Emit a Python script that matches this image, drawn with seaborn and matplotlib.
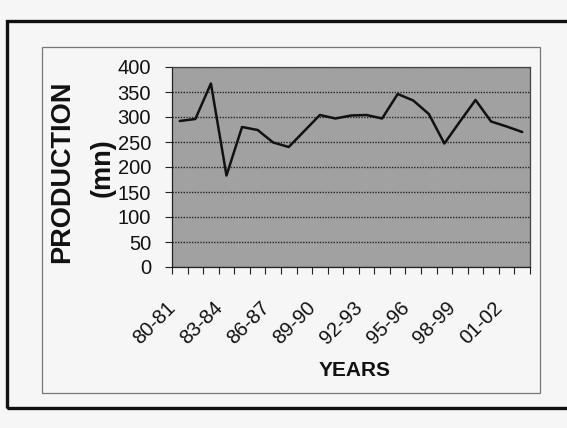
import numpy as np
import pandas as pd
import matplotlib
matplotlib.use("Agg")
import matplotlib.pyplot as plt
from matplotlib.patches import Rectangle
from matplotlib.transforms import ScaledTranslation
import seaborn as sns

# Annual production (mn), 1980-81 to 2002-03
years = ["80-81", "81-82", "82-83", "83-84", "84-85", "85-86", "86-87", "87-88",
         "88-89", "89-90", "90-91", "91-92", "92-93", "93-94", "94-95", "95-96",
         "96-97", "97-98", "98-99", "99-00", "00-01", "01-02", "02-03"]
production = [292, 296, 367, 183, 280, 274, 249, 240, 272, 304, 297, 303,
              304, 297, 346, 333, 306, 247, 291, 334, 291, 281, 270]
y_ticks = [0, 50, 100, 150, 200, 250, 300, 350, 400]
label_every = 3

sns.set_theme(style="white")
plt.rcParams["font.family"] = ["Liberation Sans", "DejaVu Sans"]

W, H = 567, 428
fig = plt.figure(figsize=(W / 100, H / 100), dpi=100, facecolor="#f6f6f6")


def fx(px):
    return px / W


def fy(py):
    return 1 - py / H


# Page frame and chart-area frame
fig.patches.append(Rectangle((fx(7), fy(408)), fx(620 - 7), (408 - 21) / H,
                             transform=fig.transFigure, fill=False,
                             ec="#111111", lw=2.4, zorder=0))
fig.patches.append(Rectangle((fx(42), fy(393)), fx(540 - 42), (393 - 47) / H,
                             transform=fig.transFigure, fill=False,
                             ec="#777777", lw=0.9, zorder=0))

ax = fig.add_axes([fx(172), fy(267), fx(530 - 172), (267 - 67) / H])

df = pd.DataFrame({"year": years, "production": production})
df["pos"] = np.arange(len(df))
sns.lineplot(data=df, x="pos", y="production", ax=ax, color="#111111",
             lw=1.8, zorder=3)

ax.set_facecolor("#a1a1a1")
ax.set_xlim(-0.5, len(years) - 0.5)
ax.set_ylim(0, 400)

# horizontal dotted gridlines
ax.set_yticks(y_ticks)
ax.yaxis.grid(True, color="#262626", linestyle=(0, (1, 1)), lw=1.0, zorder=1)
ax.xaxis.grid(False)

for side in ["top", "right"]:
    ax.spines[side].set_color("#444444")
    ax.spines[side].set_linewidth(0.9)
for side in ["left", "bottom"]:
    ax.spines[side].set_color("#222222")
    ax.spines[side].set_linewidth(0.9)

# y axis labels
ax.tick_params(axis="y", which="major", direction="out", length=5, width=0.8,
               color="#222222", labelsize=14.5, pad=10, left=True,
               labelcolor="#111111")

# tick marks between categories, labels on every third category
ax.set_xticks(np.arange(len(years) + 1) - 0.5)
ax.set_xticklabels([])
ax.tick_params(axis="x", which="major", direction="out", length=5, width=0.8,
               color="#222222", bottom=True)
label_pos = df["pos"].values[::label_every]
ax.set_xticks(label_pos, minor=True)
ax.set_xticklabels(years[::label_every], minor=True, rotation=45,
                   ha="right", va="center", rotation_mode="anchor",
                   fontsize=14.5, color="#111111")
ax.tick_params(axis="x", which="minor", length=0, pad=27)
shift = ScaledTranslation(-5 / 72, 0, fig.dpi_scale_trans)
for lab in ax.get_xticklabels(minor=True):
    lab.set_transform(lab.get_transform() + shift)

ax.set_xlabel("")
ax.set_ylabel("")

fig.text(fx(62), fy(172), "PRODUCTION", rotation=90, ha="center", va="center",
         fontsize=19.5, fontweight="bold", color="#111111")
fig.text(fx(103), fy(168), "(mn)", rotation=90, ha="center", va="center",
         fontsize=19.5, fontweight="bold", color="#111111")
fig.text(fx(355), fy(371), "YEARS", ha="center", va="center",
         fontsize=15, fontweight="bold", color="#111111")

fig.savefig("out.png", dpi=100, facecolor=fig.get_facecolor())
